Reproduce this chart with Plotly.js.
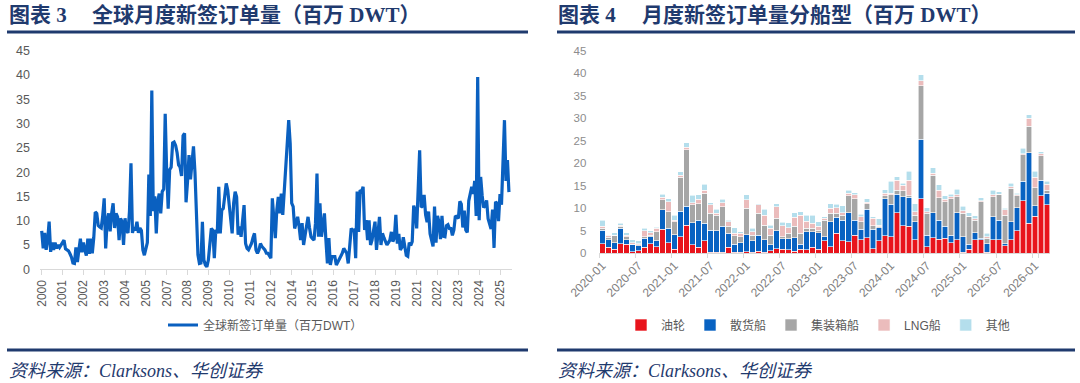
<!DOCTYPE html>
<html><head><meta charset="utf-8">
<script src="https://cdn.plot.ly/plotly-3.0.1.min.js"></script>
<style>html,body{margin:0;padding:0;background:#fff;}#chart{width:1080px;height:383px;}</style>
</head><body><div id="chart"></div>
<script>
// ---------- Left chart: global monthly new orders (million DWT), 2000-01 .. 2026-03 ----------
const lineStart = {year: 2000, month: 1};
const globalOrders = [
  7.9, 4.3, 7.5, 4.0, 6.0, 9.8, 3.6, 5.5, 4.0, 5.5, 4.3, 5.0,
  4.5, 5.0, 5.2, 6.0, 4.2, 4.0, 3.8, 3.2, 2.5, 1.3, 1.2, 4.5,
  1.5, 4.0, 6.3, 3.5, 5.5, 4.0, 2.8, 6.3, 3.2, 6.3, 3.3, 6.5,
  11.8, 11.5, 9.0, 8.7, 8.5, 11.0, 14.6, 4.3, 10.0, 11.5, 7.8, 11.5,
  13.6, 8.5, 11.5, 10.8, 6.0, 10.5, 9.8, 5.0, 10.5, 8.0, 7.5, 12.0,
  21.8, 7.5, 8.7, 8.0, 9.8, 7.5, 8.5, 8.0, 4.0, 2.9, 4.5, 5.5,
  19.5, 11.0, 36.8, 12.0, 15.0, 7.4, 14.0, 15.6, 11.5, 16.0, 16.5, 32.0,
  20.0, 12.5, 20.5, 21.0, 26.0, 26.2, 25.5, 24.0, 21.5, 21.0, 19.2, 27.5,
  28.0, 13.8, 18.0, 23.5, 18.5, 22.0, 25.3, 20.0, 12.0, 3.0, 1.2, 1.3,
  9.8, 1.9, 0.9, 0.5, 1.9, 5.0, 8.4, 8.0, 2.3, 8.1, 7.4, 17.0,
  7.4, 12.2, 12.5, 15.0, 17.7, 16.3, 13.6, 10.8, 7.4, 13.6, 16.0, 14.9,
  7.1, 8.8, 6.7, 10.0, 13.2, 5.3, 4.3, 4.0, 4.5, 5.3, 6.5, 7.4,
  4.0, 3.3, 4.0, 5.3, 4.7, 4.3, 4.0, 3.3, 3.3, 2.8, 2.3, 14.6,
  9.0, 6.4, 12.2, 14.9, 11.5, 15.6, 11.2, 16.0, 19.7, 25.2, 30.7, 25.9,
  13.6, 12.9, 8.4, 9.5, 10.8, 8.8, 6.0, 9.5, 5.0, 7.0, 8.8, 10.8,
  8.5, 6.7, 6.3, 6.0, 9.5, 19.7, 6.7, 13.6, 6.7, 9.0, 11.5, 6.0,
  1.2, 6.4, 0.9, 2.6, 2.6, 2.6, 0.9, 1.5, 2.3, 2.8, 3.3, 4.3,
  3.8, 3.3, 1.2, 5.0, 8.4, 8.0, 8.1, 2.3, 16.0, 7.7, 16.3, 16.0,
  17.0, 8.1, 10.1, 6.0, 10.1, 5.0, 6.0, 8.0, 9.8, 4.0, 8.1, 10.8,
  5.0, 7.4, 6.5, 5.7, 5.0, 5.5, 6.0, 7.7, 5.7, 6.5, 11.2, 5.3,
  7.3, 4.0, 4.5, 6.6, 4.5, 2.9, 2.7, 5.5, 4.9, 5.7, 13.1, 12.1,
  8.4, 18.1, 24.5, 12.8, 13.0, 15.3, 11.2, 9.7, 11.9, 7.3, 5.6, 4.7,
  12.9, 5.5, 11.0, 9.7, 6.2, 11.0, 6.8, 6.7, 9.0, 9.2, 8.4, 8.4,
  7.0, 8.1, 11.0, 10.8, 10.5, 14.0, 13.4, 8.6, 12.1, 8.1, 7.6, 14.1,
  15.9, 17.0, 15.5, 18.2, 11.0, 39.6, 10.1, 19.0, 15.2, 12.7, 13.1, 14.2,
  10.4, 9.0, 8.3, 12.3, 4.4, 13.9, 13.6, 9.9, 15.5, 13.3, 23.3, 30.7,
  18.2, 22.5, 15.9
];
const leftTickEvery = 14;

// ---------- Right chart: monthly orders by ship type, 2020-01 .. 2026-03 ----------
const barStart = {year: 2020, month: 1};
const tankers = [
  2.1,1.3,0.8,2.1,2.0,0.3,0.5,1.3,2.1,1.4,5.3,2.3,
  0.8,3.6,6.2,1.8,1.3,2.7,0.2,0.2,0.2,1.3,0.2,0.2,
  0.3,0.2,0.4,0.2,0.5,0.9,0.8,0.7,0.4,0.8,0.7,1.3,
  0.8,2.7,1.4,4.4,2.7,2.5,3.9,2.9,3.4,1.0,2.7,3.8,
  3.6,9.0,6.1,6.0,2.9,12.1,1.4,3.4,3.1,3.3,2.3,2.9,
  0.2,0.8,2.9,3.0,0.2,3.0,3.0,1.6,3.0,5.0,11.6,6.6,
  8.2,12.7,10.7
];
const bulkers = [
  3.0,1.7,1.5,3.4,1.0,1.5,1.1,2.0,1.5,1.3,4.3,3.2,
  3.3,5.7,4.2,4.9,6.0,3.9,4.9,4.8,5.8,3.1,1.8,2.1,
  3.8,2.5,3.6,2.7,1.3,4.1,2.4,2.5,3.0,1.2,4.0,3.4,
  3.7,0.9,5.6,3.5,4.6,6.5,3.4,2.4,6.3,4.3,2.9,8.3,
  7.2,4.1,6.4,6.4,4.1,13.2,2.6,5.6,4.2,2.6,1.7,6.1,
  3.4,1.2,1.6,0.3,1.9,5.1,4.3,0.5,4.0,5.1,4.4,15.7,
  2.3,3.5,2.6
];
const containers = [
  0.4,0.5,1.5,0.4,0.6,0.2,0.2,0.3,0.4,2.0,2.2,3.7,
  2.9,7.5,12.6,4.0,3.7,6.7,3.7,3.4,4.3,1.6,1.8,1.3,
  5.8,1.3,4.8,3.3,2.2,2.7,0.4,1.2,2.5,2.4,0.8,0.8,
  0.6,3.7,1.8,0.9,1.1,3.7,4.8,1.7,1.3,0.8,0.4,0.6,
  2.1,0.9,1.3,0.3,1.4,11.9,4.8,8.3,5.0,5.5,8.1,3.5,
  5.2,6.1,2.8,8.1,1.2,4.4,5.6,6.3,7.4,2.6,5.8,5.9,
  4.0,5.4,0.7
];
const lngCarriers = [
  0.4,0.3,0.2,0.3,0.4,0.3,0.3,1.4,0.5,0.8,0.6,2.2,
  0.3,0.5,0.5,0.5,0.9,0.6,1.9,0.4,0.9,1.0,0.6,0.8,
  1.9,0.7,1.9,2.2,1.5,2.6,2.5,1.2,2.0,4.0,1.6,1.1,
  0.8,0.4,1.1,1.3,0.6,0.6,0.8,1.1,0.3,1.6,0.2,0.6,
  0.4,2.2,1.3,3.5,0.8,1.1,0.4,0.4,1.7,0.5,0.4,0.5,
  0.6,0.1,0.3,0.2,0.3,0.4,0.2,1.2,0.3,0.2,0.3,1.7,
  2.3,0.5,1.3
];
const others = [
  1.4,0.2,0.5,0.4,0.5,0.6,0.6,0.5,0.4,0.2,0.7,0.7,
  1.1,0.8,1.0,1.6,1.1,1.4,0.5,0.9,0.7,0.3,1.2,0.3,
  1.1,0.8,0.3,1.3,0.7,0.7,0.7,1.1,1.1,0.8,1.3,1.8,
  1.1,0.4,1.1,0.7,1.5,0.7,0.5,0.5,0.8,0.4,1.4,0.8,
  2.6,0.8,0.4,2.0,1.8,1.3,0.9,1.3,1.2,0.8,0.6,1.2,
  1.0,0.8,0.7,0.7,0.8,1.0,0.5,0.3,0.8,0.4,1.2,0.8,
  1.4,0.4,0.6
];
const barTickEvery = 6;

const seriesNames = ['油轮','散货船','集装箱船','LNG船','其他'];
const seriesColors = ['#E8141C','#0862C2','#A6A6A6','#EBBCBC','#B4DEEC'];
const lineName = '全球新签订单量（百万DWT）';

// month category labels
function monthLabels(start, n) {
  const out = [];
  for (let i = 0; i < n; i++) {
    const m = start.month - 1 + i;
    const y = start.year + Math.floor(m / 12);
    const mm = (m % 12) + 1;
    out.push(y + '-' + (mm < 10 ? '0' + mm : mm));
  }
  return out;
}
const lineMonths = monthLabels(lineStart, globalOrders.length);
const barMonths = monthLabels(barStart, tankers.length);
const leftTickVals = lineMonths.filter((_, i) => i % leftTickEvery === 0);
const leftTickText = leftTickVals.map(s => s.slice(0, 4));
const rightTickVals = barMonths.filter((_, i) => i % barTickEvery === 0);

const traces = [{
  type: 'scatter', mode: 'lines', x: lineMonths, y: globalOrders, name: lineName,
  xaxis: 'x', yaxis: 'y', line: {color: '#0A60C0', width: 3.2}, legend: 'legend',
  hoverinfo: 'skip'
}];
[tankers, bulkers, containers, lngCarriers, others].forEach((arr, k) => {
  traces.push({
    type: 'bar', x: barMonths, y: arr, name: seriesNames[k], xaxis: 'x2', yaxis: 'y2',
    marker: {color: seriesColors[k], line: {color: '#FFFFFF', width: 0.6}},
    legend: 'legend2', hoverinfo: 'skip'
  });
});

const W = 1080, H = 383;
const px = v => v / W, py = v => 1 - v / H;
const navy = '#1F3A6E';
const titleFont = {family: 'Liberation Serif, Noto Sans CJK SC, serif', size: 21, color: navy, weight: 'bold'};
const srcFont = {family: 'Liberation Serif, Noto Sans CJK SC, serif', size: 18, color: navy, style: 'italic'};

function ann(text, x, y, font) {
  return {text: text, x: px(x), y: py(y), xref: 'paper', yref: 'paper', xanchor: 'left', yanchor: 'middle', showarrow: false, font: font};
}
function rule(x0, x1, y) {
  return {type: 'line', xref: 'paper', yref: 'paper', x0: px(x0), x1: px(x1), y0: py(y), y1: py(y), line: {color: navy, width: 3}};
}

const layout = {
  width: W, height: H, margin: {l: 0, r: 0, t: 0, b: 0},
  paper_bgcolor: '#FFFFFF', plot_bgcolor: 'rgba(0,0,0,0)',
  font: {family: 'Liberation Sans, Noto Sans CJK SC, sans-serif', color: '#595959'},
  barmode: 'stack', bargap: 0.08, showlegend: true,
  xaxis: {
    type: 'category', domain: [px(40), px(512)], range: [-1.142, 316.06], anchor: 'y',
    tickmode: 'array', tickvals: leftTickVals, ticktext: leftTickText, tickangle: -90,
    ticks: 'outside', ticklen: 5, tickcolor: '#D9D9D9', showline: true, linecolor: '#D9D9D9', linewidth: 1,
    showgrid: false, zeroline: false, tickfont: {size: 12, color: '#595959'}, fixedrange: true
  },
  yaxis: {
    domain: [py(269.3), py(50.7)], range: [0, 45], dtick: 5, tick0: 0, anchor: 'x',
    showgrid: false, zeroline: false, showline: false, ticks: '',
    tickfont: {size: 12.5, color: '#595959'}, ticklabelstandoff: 9, fixedrange: true
  },
  xaxis2: {
    type: 'category', domain: [px(599.3), px(1050.1)], range: [-0.5, 74.5], anchor: 'y2',
    tickmode: 'array', tickvals: rightTickVals, ticktext: rightTickVals, tickangle: -45, tickson: 'boundaries',
    ticks: 'outside', ticklen: 4, tickcolor: '#D9D9D9', showline: true, linecolor: '#D9D9D9', linewidth: 1,
    showgrid: false, zeroline: false, tickfont: {size: 12, color: '#7F7F7F'}, fixedrange: true
  },
  yaxis2: {
    domain: [py(253), py(50.5)], range: [0, 45], dtick: 5, tick0: 0, anchor: 'x2',
    showgrid: false, zeroline: false, showline: false, ticks: '',
    tickfont: {size: 11.5, color: '#8C8C8C'}, ticklabelstandoff: 12, fixedrange: true
  },
  legend: {
    orientation: 'h', x: px(163), xanchor: 'left', y: py(325), yanchor: 'middle',
    font: {size: 12, color: '#595959'}, bgcolor: 'rgba(0,0,0,0)'
  },
  legend2: {
    orientation: 'h', x: px(818), xanchor: 'center', y: py(325), yanchor: 'middle', traceorder: 'normal',
    font: {size: 12, color: '#595959'}, bgcolor: 'rgba(0,0,0,0)', itemwidth: 30
  },
  shapes: [rule(7, 528, 32), rule(557, 1075, 32), rule(7, 528, 350), rule(557, 1075, 350)],
  annotations: [
    ann('图表 3', 7, 15, titleFont),
    ann('全球月度新签订单量（百万 DWT）', 90, 15, titleFont),
    ann('图表 4', 556, 15, titleFont),
    ann('月度新签订单量分船型（百万 DWT）', 640, 15, titleFont),
    ann('资料来源：Clarksons、华创证券', 7, 371, srcFont),
    ann('资料来源：Clarksons、华创证券', 556, 371, srcFont)
  ]
};

Plotly.newPlot('chart', traces, layout, {staticPlot: true, displayModeBar: false});
</script>
</body></html>
